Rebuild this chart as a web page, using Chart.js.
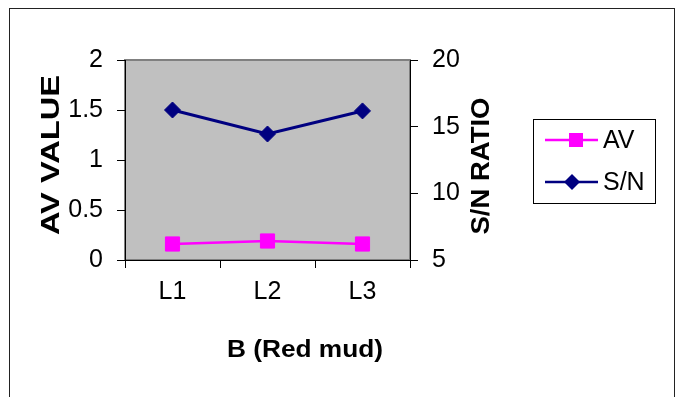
<!DOCTYPE html>
<html>
<head>
<meta charset="utf-8">
<script src="https://cdn.jsdelivr.net/npm/chart.js@4/dist/chart.umd.min.js"></script>
<style>
  html, body { margin: 0; padding: 0; background: #fff; }
  #wrap { width: 681px; height: 397px; position: relative; }
</style>
</head>
<body>
<div id="wrap"><canvas id="avChart"></canvas></div>
<script>
const categories = ['L1', 'L2', 'L3'];
const avValues = [0.16, 0.19, 0.16];
const snValues = [16.25, 14.45, 16.18];
const avTicks = [0, 0.5, 1, 1.5, 2];
const snTicks = [5, 10, 15, 20];

const FONT = "'Liberation Sans', Arial, sans-serif";

function stretchedText(ctx, text, x, y, angle, font, len) {
    ctx.save();
    ctx.translate(x, y);
    ctx.rotate(angle);
    ctx.font = font;
    const w = ctx.measureText(text).width;
    ctx.scale(len / w, 1);
    ctx.textAlign = 'center';
    ctx.textBaseline = 'middle';
    ctx.fillStyle = '#000';
    ctx.fillText(text, 0, 0);
    ctx.restore();
}

const decor = {
    id: 'decor',
    beforeDraw(chart) {
        const { ctx, chartArea: a } = chart;
        ctx.save();
        ctx.fillStyle = '#fff';
        ctx.fillRect(0, 0, chart.width, chart.height);
        ctx.strokeStyle = '#222';
        ctx.lineWidth = 1;
        ctx.strokeRect(9.5, 8.5, 665, 420);
        ctx.fillStyle = '#c0c0c0';
        ctx.fillRect(a.left, a.top, a.right - a.left, a.bottom - a.top);
        ctx.strokeStyle = '#808080';
        ctx.lineWidth = 2;
        ctx.strokeRect(a.left, a.top, a.right - a.left, a.bottom - a.top);
        ctx.restore();
    },
    afterDraw(chart) {
        const ctx = chart.ctx;
        // axis titles
        stretchedText(ctx, 'AV VALUE', 52, 155, -Math.PI / 2, 'bold 26px ' + FONT, 160);
        stretchedText(ctx, 'S/N RATIO', 482, 166, -Math.PI / 2, 'bold 26px ' + FONT, 137);
        stretchedText(ctx, 'B (Red mud)', 305, 350, 0, 'bold 24px ' + FONT, 156);

        // legend
        ctx.save();
        ctx.fillStyle = '#fff';
        ctx.fillRect(533.5, 119.5, 122, 84);
        ctx.strokeStyle = '#000';
        ctx.lineWidth = 1;
        ctx.strokeRect(533.5, 119.5, 122, 84);

        const ds = chart.data.datasets;
        // AV entry
        ctx.strokeStyle = ds[0].borderColor;
        ctx.lineWidth = 2.5;
        ctx.beginPath();
        ctx.moveTo(545, 140);
        ctx.lineTo(598, 140);
        ctx.stroke();
        ctx.fillStyle = ds[0].pointBackgroundColor;
        ctx.fillRect(569, 133, 14, 14);
        // S/N entry
        ctx.strokeStyle = ds[1].borderColor;
        ctx.lineWidth = 2.5;
        ctx.beginPath();
        ctx.moveTo(545, 182);
        ctx.lineTo(598, 182);
        ctx.stroke();
        ctx.fillStyle = ds[1].pointBackgroundColor;
        ctx.beginPath();
        ctx.moveTo(572, 174);
        ctx.lineTo(580, 182);
        ctx.lineTo(572, 190);
        ctx.lineTo(564, 182);
        ctx.closePath();
        ctx.fill();

        ctx.fillStyle = '#000';
        ctx.font = '25px ' + FONT;
        ctx.textAlign = 'left';
        ctx.textBaseline = 'middle';
        ctx.fillText('AV', 603, 141);
        ctx.fillText('S/N', 603, 183);
        ctx.restore();
    }
};

const tickFont = { family: FONT, size: 25 };

const ctx = document.getElementById('avChart').getContext('2d');
const chart = new Chart(ctx, {
    type: 'line',
    data: {
        labels: categories,
        datasets: [{
            label: 'AV',
            data: avValues,
            yAxisID: 'y',
            borderColor: '#ff00ff',
            backgroundColor: '#ff00ff',
            pointBackgroundColor: '#ff00ff',
            pointBorderColor: '#ff00ff',
            pointStyle: 'rect',
            pointRadius: 10,
            pointBorderWidth: 1,
            borderWidth: 2.5,
            tension: 0
        }, {
            label: 'S/N',
            data: snValues,
            yAxisID: 'y1',
            borderColor: '#000080',
            backgroundColor: '#000080',
            pointBackgroundColor: '#000080',
            pointBorderColor: '#000080',
            pointStyle: 'rectRot',
            pointRadius: 8,
            pointBorderWidth: 1,
            borderWidth: 3,
            tension: 0
        }]
    },
    options: {
        responsive: true,
        maintainAspectRatio: false,
        animation: false,
        layout: { padding: { top: 60, left: 0, right: 0, bottom: 0 } },
        plugins: {
            legend: { display: false },
            tooltip: { enabled: false }
        },
        scales: {
            x: {
                offset: true,
                grid: { offset: true, drawOnChartArea: false, tickLength: 8, color: '#000' },
                border: { color: '#000', width: 1 },
                ticks: { color: '#000', padding: 9, font: tickFont },
                afterFit(scale) { scale.height = 137; }
            },
            y: {
                position: 'left',
                min: 0,
                max: 2,
                grid: { drawOnChartArea: false, tickLength: 8, color: '#000' },
                border: { color: '#000', width: 1 },
                ticks: { color: '#000', padding: 14, font: tickFont, callback: v => String(v) },
                afterBuildTicks(scale) { scale.ticks = avTicks.map(v => ({ value: v })); },
                afterFit(scale) { scale.width = 125; }
            },
            y1: {
                position: 'right',
                min: 5,
                max: 20,
                grid: { drawOnChartArea: false, tickLength: 8, color: '#000' },
                border: { color: '#000', width: 1 },
                ticks: { color: '#000', padding: 14, font: tickFont, callback: v => String(v) },
                afterBuildTicks(scale) { scale.ticks = snTicks.map(v => ({ value: v })); },
                afterFit(scale) { scale.width = 271; }
            }
        }
    },
    plugins: [decor]
});
</script>
</body>
</html>
